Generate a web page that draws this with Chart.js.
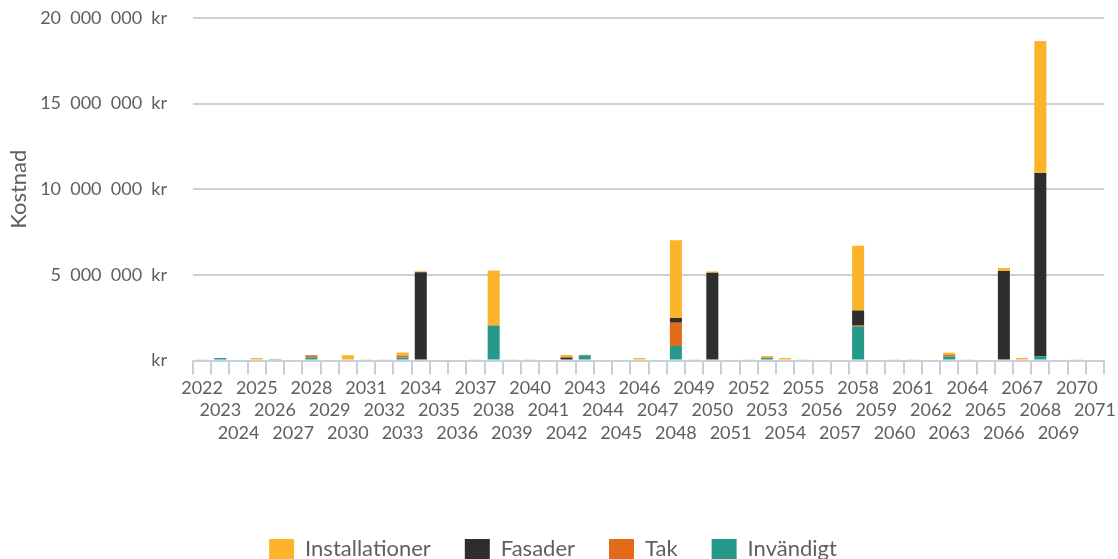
<!DOCTYPE html>
<html lang="sv">
<head>
<meta charset="utf-8">
<title>Kostnad per år</title>
<script src="https://cdn.jsdelivr.net/npm/chart.js@4.4.1/dist/chart.umd.min.js"></script>
<style>
    html, body { margin: 0; padding: 0; background: #ffffff; }
    #chartWrap { width: 1118px; height: 559px; position: relative; }
</style>
</head>
<body>
<div id="chartWrap"><canvas id="costChart"></canvas></div>
<script>
// Years on the x axis
const years = [
    2022, 2023, 2024, 2025, 2026, 2027, 2028, 2029, 2030, 2031,
    2032, 2033, 2034, 2035, 2036, 2037, 2038, 2039, 2040, 2041,
    2042, 2043, 2044, 2045, 2046, 2047, 2048, 2049, 2050, 2051,
    2052, 2053, 2054, 2055, 2056, 2057, 2058, 2059, 2060, 2061,
    2062, 2063, 2064, 2065, 2066, 2067, 2068, 2069, 2070, 2071
];

// Cost per year and category (kr)
const installationer = [
    70000, 0, 0, 150000, 0, 0, 0, 0, 300000, 70000,
    70000, 170000, 60000, 0, 0, 70000, 3200000, 70000, 70000, 0,
    150000, 40000, 0, 0, 150000, 0, 4540000, 70000, 60000, 0,
    70000, 110000, 140000, 70000, 0, 0, 3780000, 0, 70000, 70000,
    0, 120000, 70000, 0, 175000, 150000, 7700000, 0, 70000, 0
];
const fasader = [
    0, 0, 0, 0, 70000, 0, 0, 0, 0, 0,
    0, 0, 5150000, 0, 0, 0, 0, 0, 0, 0,
    170000, 0, 0, 0, 0, 0, 270000, 0, 5130000, 0,
    0, 0, 0, 0, 0, 0, 840000, 0, 0, 0,
    0, 0, 0, 0, 5220000, 0, 10700000, 0, 0, 0
];
const tak = [
    0, 0, 0, 0, 0, 0, 120000, 0, 0, 0,
    0, 120000, 0, 0, 0, 0, 0, 0, 0, 0,
    0, 0, 0, 0, 0, 0, 1370000, 0, 0, 0,
    0, 0, 0, 0, 0, 0, 80000, 0, 0, 0,
    0, 100000, 0, 0, 0, 0, 0, 0, 0, 0
];
const invandigt = [
    0, 150000, 0, 0, 0, 0, 180000, 0, 0, 0,
    0, 170000, 0, 0, 0, 0, 2050000, 0, 0, 0,
    0, 300000, 0, 0, 0, 0, 840000, 0, 0, 0,
    0, 150000, 0, 0, 0, 0, 2000000, 0, 0, 0,
    0, 230000, 0, 0, 0, 0, 250000, 0, 0, 0
];

// Y axis ticks
const yTicks = [0, 5000000, 10000000, 15000000, 20000000];

const textColor = '#5f5f5f';
const fontFamily = 'Lato, "Noto Sans", sans-serif';

document.addEventListener('DOMContentLoaded', function() {
    initCostChart();
});

/**
 * Format a number as "20 000 000 kr" (wide gaps like the original)
 */
function formatKr(value) {
    if (value === 0) {
        return 'kr';
    }
    return String(value).replace(/\B(?=(\d{3})+(?!\d))/g, '  ') + '  kr';
}

/**
 * Build the stacked cost chart
 */
function initCostChart() {
    const el = document.getElementById('costChart');
    if (!el) return;

    new Chart(el, {
        type: 'bar',
        data: {
            labels: years,
            // bottom of the stack first
            datasets: [
                { label: 'Invändigt', data: invandigt, backgroundColor: '#26998a' },
                { label: 'Tak', data: tak, backgroundColor: '#e3691b' },
                { label: 'Fasader', data: fasader, backgroundColor: '#2e2e2e' },
                { label: 'Installationer', data: installationer, backgroundColor: '#fbb42c' }
            ]
        },
        options: {
            responsive: true,
            maintainAspectRatio: false,
            animation: false,
            datasets: {
                bar: { barPercentage: 0.66, categoryPercentage: 1.0 }
            },
            layout: {
                padding: { top: 18, right: 12, left: 0, bottom: -11 }
            },
            plugins: {
                tooltip: { enabled: false },
                legend: {
                    position: 'bottom',
                    reverse: true,
                    labels: {
                        color: textColor,
                        font: { family: fontFamily, size: 22 },
                        boxWidth: 25,
                        boxHeight: 20,
                        padding: 34
                    }
                }
            },
            scales: {
                x: {
                    stacked: true,
                    border: { display: true, color: '#c7d0da', width: 2 },
                    grid: {
                        display: true,
                        drawOnChartArea: false,
                        drawTicks: true,
                        tickLength: 14,
                        color: '#c7d0da',
                        lineWidth: 2
                    },
                    ticks: {
                        color: textColor,
                        font: { family: fontFamily, size: 18, lineHeight: 1.25 },
                        padding: 2,
                        autoSkip: false,
                        maxRotation: 0,
                        minRotation: 0,
                        callback: function(value, index) {
                            const rows = ['', '', ''];
                            rows[index % 3] = String(years[index]);
                            return rows;
                        }
                    },
                    afterFit: function(scale) {
                        scale.height += 58;
                    }
                },
                y: {
                    stacked: true,
                    min: 0,
                    max: 20000000,
                    border: { display: false },
                    grid: {
                        color: function(ctx) {
                            return ctx.tick && ctx.tick.value === 0 ? 'rgba(0,0,0,0)' : '#cfcfcf';
                        },
                        lineWidth: 2,
                        // invisible ticks, only used to push the labels left
                        drawTicks: true,
                        tickLength: 24,
                        tickColor: 'rgba(0,0,0,0)'
                    },
                    afterBuildTicks: function(scale) {
                        scale.ticks = yTicks.map(v => ({ value: v }));
                    },
                    ticks: {
                        color: textColor,
                        font: { family: fontFamily, size: 18 },
                        padding: 2,
                        callback: function(value) {
                            return formatKr(value);
                        }
                    },
                    title: {
                        display: true,
                        text: 'Kostnad',
                        color: textColor,
                        font: { family: fontFamily, size: 22 },
                        padding: { top: 6, bottom: 0 }
                    },
                    afterFit: function(scale) {
                        scale.width = 193;
                    }
                }
            }
        }
    });
}
</script>
</body>
</html>
